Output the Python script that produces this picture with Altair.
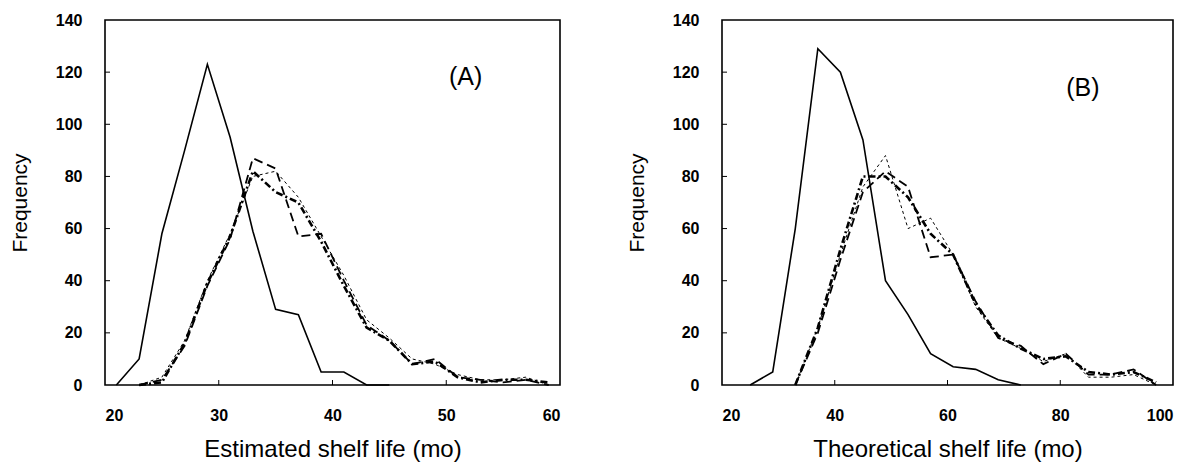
import altair as alt
import pandas as pd

# ---------------- Panel A data (Estimated shelf life) ----------------
a_solid_x = [21, 23, 25, 27, 29, 31, 33, 35, 37, 39, 41, 43, 45]
a_solid_y = [0, 10, 58, 90, 123, 95, 59, 29, 27, 5, 5, 0, 0]

a_x = [23, 25, 27, 29, 31, 33, 35, 37, 39, 41, 43, 45, 47, 49, 51, 53, 55, 57, 59]
a_longdash_y = [0, 2, 15, 38, 56, 87, 83, 57, 58, 40, 23, 17, 8, 10, 3, 2, 1, 2, 0]
a_shortdash_y = [0, 3, 17, 40, 58, 80, 82, 72, 57, 42, 25, 18, 10, 8, 4, 2, 2, 3, 0]
a_dashdot_y = [0, 1, 16, 39, 57, 82, 74, 70, 55, 38, 22, 17, 8, 9, 3, 1, 2, 2, 1]

# ---------------- Panel B data (Theoretical shelf life) ----------------
b_solid_x = [25, 29, 33, 37, 41, 45, 49, 53, 57, 61, 65, 69, 73]
b_solid_y = [0, 5, 60, 129, 120, 94, 40, 27, 12, 7, 6, 2, 0]

b_x = [33, 37, 41, 45, 49, 53, 57, 61, 65, 69, 73, 77, 81, 85, 89, 93, 97]
b_longdash_y = [0, 20, 48, 74, 82, 76, 49, 50, 32, 18, 15, 8, 12, 4, 4, 6, 0]
b_shortdash_y = [0, 22, 50, 76, 88, 60, 64, 50, 30, 18, 14, 9, 12, 3, 3, 4, 0]
b_dashdot_y = [0, 22, 52, 80, 80, 72, 58, 50, 31, 19, 14, 10, 11, 5, 4, 5, 1]

# axis ticks / labels
a_xticks = [20, 30, 40, 50, 60]
b_xticks = [20, 40, 60, 80, 100]
yticks = [0, 20, 40, 60, 80, 100, 120, 140]

# panel tags
a_tag = {"x": [51.7], "y": [118], "t": ["(A)"]}
b_tag = {"x": [84], "y": [114], "t": ["(B)"]}

W_A, W_B, H = 455, 451, 365
FONT = "Liberation Sans"

styles = [
    ("solid", [1, 0], 1.6),
    ("longdash", [9, 5], 1.8),
    ("shortdash", [3, 3], 1.0),
    ("dashdot", [7, 3, 2, 3], 2.6),
]


def panel(xs_list, ys_list, xdomain, xticks, xtitle, tag, width):
    xscale = alt.Scale(domain=xdomain, nice=False, zero=False)
    yscale = alt.Scale(domain=[0, 140], nice=False)
    layers = []
    for (name, dash, sw), xs, ys in zip(styles, xs_list, ys_list):
        df = pd.DataFrame({"x": xs, "y": ys})
        mark_kwargs = dict(color="black", strokeWidth=sw)
        if name != "solid":
            mark_kwargs["strokeDash"] = dash
        layer = alt.Chart(df).mark_line(**mark_kwargs).encode(
            x=alt.X("x:Q", scale=xscale,
                    axis=alt.Axis(values=xticks, title=xtitle, ticks=False,
                                  domain=False, grid=False, labelPadding=22,
                                  labelFontSize=16, labelFontWeight="bold",
                                  labelFont=FONT, titleFont=FONT,
                                  titleFontSize=24, titleFontWeight="normal",
                                  titlePadding=14, labelColor="black",
                                  titleColor="black", format="d")),
            y=alt.Y("y:Q", scale=yscale,
                    axis=alt.Axis(values=yticks, title="Frequency", ticks=False,
                                  domain=False, grid=False, labelPadding=23,
                                  labelFontSize=16, labelFontWeight="bold",
                                  labelFont=FONT, titleFont=FONT,
                                  titleFontSize=21, titleFontWeight="normal",
                                  titlePadding=25, labelColor="black",
                                  titleColor="black", format="d")),
        )
        layers.append(layer)
    # inward ticks
    yt = pd.DataFrame({"y": yticks[1:-1]})
    layers.append(alt.Chart(yt).mark_rule(color="black", strokeWidth=1).encode(
        y=alt.Y("y:Q", scale=yscale), x=alt.value(0), x2=alt.value(5)))
    xt = pd.DataFrame({"x": xticks[1:-1]})
    layers.append(alt.Chart(xt).mark_rule(color="black", strokeWidth=1).encode(
        x=alt.X("x:Q", scale=xscale), y=alt.value(H), y2=alt.value(H - 5)))
    # tag text
    tdf = pd.DataFrame(tag)
    layers.append(alt.Chart(tdf).mark_text(font=FONT, fontSize=25, color="black",
                                           align="center", baseline="middle").encode(
        x=alt.X("x:Q", scale=xscale), y=alt.Y("y:Q", scale=yscale), text="t:N"))
    return alt.layer(*layers).properties(width=width, height=H)


pa = panel([a_solid_x, a_x, a_x, a_x],
           [a_solid_y, a_longdash_y, a_shortdash_y, a_dashdot_y],
           [20, 60], a_xticks, "Estimated shelf life (mo)", a_tag, W_A)
pb = panel([b_solid_x, b_x, b_x, b_x],
           [b_solid_y, b_longdash_y, b_shortdash_y, b_dashdot_y],
           [20, 100], b_xticks, "Theoretical shelf life (mo)", b_tag, W_B)

chart = alt.hconcat(pa, pb, spacing=64).properties(
    padding={"left": 0, "top": 3, "right": 0, "bottom": 0}
).configure(background="white").configure_view(stroke="black", strokeWidth=1.6)

chart.save("out.html", embed_options={"renderer": "svg", "actions": False})
